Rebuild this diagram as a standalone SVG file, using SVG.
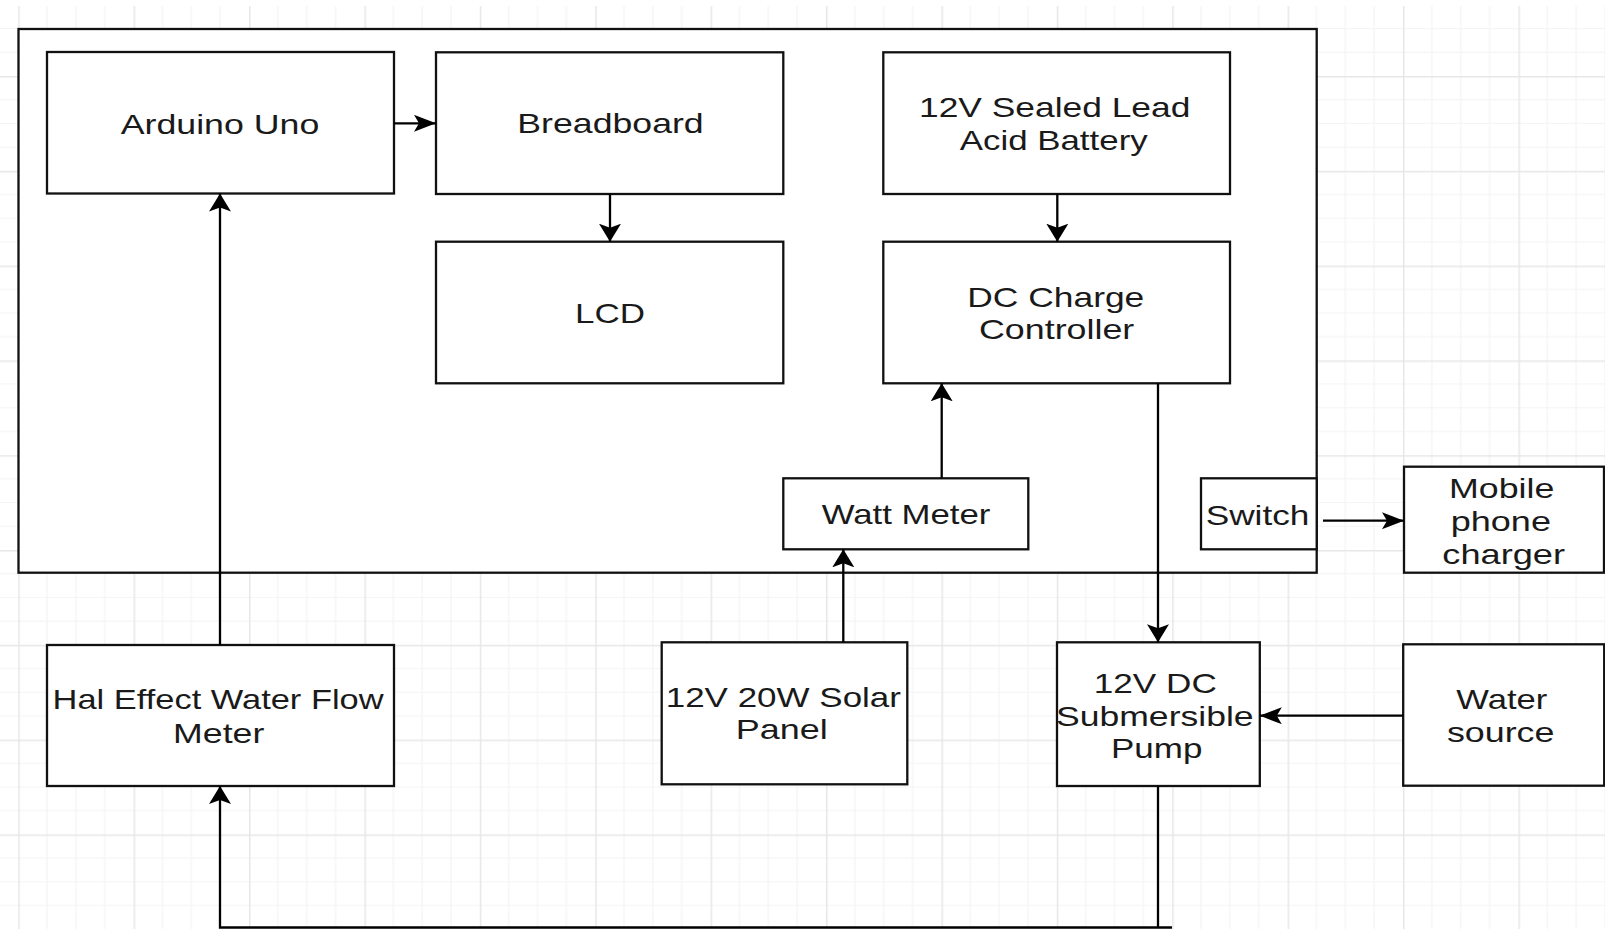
<svg xmlns="http://www.w3.org/2000/svg" width="1605" height="929" viewBox="0 0 1605 929">
<defs>
<pattern id="grid" patternUnits="userSpaceOnUse" x="18.2" y="76" width="115.4" height="94.8">
<path d="M28.85,0V94.8M57.7,0V94.8M86.55,0V94.8M0,23.7H115.4M0,47.4H115.4M0,71.1H115.4" stroke="#f4f4f4" stroke-width="1.2" fill="none"/>
<path d="M0.75,0V94.8M0,0.75H115.4" stroke="#e7e7e7" stroke-width="1.5" fill="none"/>
</pattern>
<marker id="arrV" viewBox="0 0 18 22" refX="18" refY="11" markerWidth="18" markerHeight="22" markerUnits="userSpaceOnUse" orient="auto">
<path d="M0,0 L18,11 L0,22 L4,11 Z" fill="#000"/>
</marker>
<marker id="arrH" viewBox="0 0 22 17" refX="22" refY="8.5" markerWidth="22" markerHeight="17" markerUnits="userSpaceOnUse" orient="auto">
<path d="M0,0 L22,8.5 L0,17 L5,8.5 Z" fill="#000"/>
</marker>
<style>
.box{fill:#fff;stroke:#111;stroke-width:2.3}
.lbl{font-family:"Liberation Sans",Arial,sans-serif;font-size:28px;fill:#1a1a1a}
.con{fill:none;stroke:#000;stroke-width:2.3}
</style>
</defs>
<rect x="0" y="0" width="1605" height="929" fill="#fff"/>
<rect x="0" y="6" width="1605" height="923" fill="url(#grid)"/>

<g id="container"><rect class="box" x="18.5" y="29" width="1298.2" height="543.7"/></g>

<g id="arduino"><rect class="box" x="47" y="52" width="347" height="141.5"/>
<text class="lbl" x="120.7" y="134.3" textLength="198.6" lengthAdjust="spacingAndGlyphs">Arduino Uno</text></g>

<g id="breadboard"><rect class="box" x="436" y="52.3" width="347.3" height="141.7"/>
<text class="lbl" x="517.3" y="133.3" textLength="186.4" lengthAdjust="spacingAndGlyphs">Breadboard</text></g>

<g id="lcd"><rect class="box" x="436" y="241.7" width="347.3" height="141.6"/>
<text class="lbl" x="575" y="323.3" textLength="70" lengthAdjust="spacingAndGlyphs">LCD</text></g>

<g id="battery"><rect class="box" x="883.3" y="52.3" width="346.7" height="141.7"/>
<text class="lbl" x="919" y="117.3" textLength="271.3" lengthAdjust="spacingAndGlyphs">12V Sealed Lead</text>
<text class="lbl" x="959.7" y="150" textLength="188" lengthAdjust="spacingAndGlyphs">Acid Battery</text></g>

<g id="dc-charge"><rect class="box" x="883.3" y="241.7" width="346.7" height="141.6"/>
<text class="lbl" x="967.3" y="306.7" textLength="177" lengthAdjust="spacingAndGlyphs">DC Charge</text>
<text class="lbl" x="979" y="339.3" textLength="155.3" lengthAdjust="spacingAndGlyphs">Controller</text></g>

<g id="watt-meter"><rect class="box" x="783.3" y="478.3" width="245" height="71"/>
<text class="lbl" x="821.7" y="524" textLength="168.7" lengthAdjust="spacingAndGlyphs">Watt Meter</text></g>

<g id="switch"><rect class="box" x="1201" y="478.3" width="115.7" height="71"/>
<text class="lbl" x="1205.7" y="525" textLength="103.7" lengthAdjust="spacingAndGlyphs">Switch</text></g>

<g id="mobile-charger"><rect class="box" x="1404" y="466.7" width="200" height="106"/>
<text class="lbl" x="1449" y="498.3" textLength="105.3" lengthAdjust="spacingAndGlyphs">Mobile</text>
<text class="lbl" x="1450.7" y="531" textLength="100.3" lengthAdjust="spacingAndGlyphs">phone</text>
<text class="lbl" x="1442.3" y="564" textLength="122.7" lengthAdjust="spacingAndGlyphs">charger</text></g>

<g id="flow-meter"><rect class="box" x="47" y="645" width="347" height="141"/>
<text class="lbl" x="52.6" y="709.3" textLength="331" lengthAdjust="spacingAndGlyphs">Hal Effect Water Flow</text>
<text class="lbl" x="173.1" y="742.7" textLength="91.2" lengthAdjust="spacingAndGlyphs">Meter</text></g>

<g id="solar-panel"><rect class="box" x="661.7" y="642.3" width="245.6" height="142"/>
<text class="lbl" x="665.7" y="707.3" textLength="235.3" lengthAdjust="spacingAndGlyphs">12V 20W Solar</text>
<text class="lbl" x="735.7" y="739.3" textLength="92" lengthAdjust="spacingAndGlyphs">Panel</text></g>

<g id="pump"><rect class="box" x="1057" y="642.3" width="202.8" height="143.7"/>
<text class="lbl" x="1093.8" y="692.7" textLength="123" lengthAdjust="spacingAndGlyphs">12V DC</text>
<text class="lbl" x="1056" y="726" textLength="197.6" lengthAdjust="spacingAndGlyphs">Submersible</text>
<text class="lbl" x="1111" y="758.3" textLength="91.4" lengthAdjust="spacingAndGlyphs">Pump</text></g>

<g id="water-source"><rect class="box" x="1403.2" y="644.3" width="201" height="141.4"/>
<text class="lbl" x="1456.3" y="709.3" textLength="91" lengthAdjust="spacingAndGlyphs">Water</text>
<text class="lbl" x="1446.9" y="741.7" textLength="107.6" lengthAdjust="spacingAndGlyphs">source</text></g>

<g id="connectors">
<path class="con" d="M394,123.3 H436" marker-end="url(#arrH)"/>
<path class="con" d="M220,645 V193.5" marker-end="url(#arrV)"/>
<path class="con" d="M610,194 V241.7" marker-end="url(#arrV)"/>
<path class="con" d="M1057.3,194 V241.7" marker-end="url(#arrV)"/>
<path class="con" d="M941.7,478.3 V383.3" marker-end="url(#arrV)"/>
<path class="con" d="M843.3,642.3 V549.3" marker-end="url(#arrV)"/>
<path class="con" d="M1158,383.3 V642.3" marker-end="url(#arrV)"/>
<path class="con" d="M1323,520.7 H1404" marker-end="url(#arrH)"/>
<path class="con" d="M1403,715.7 H1259.8" marker-end="url(#arrH)"/>
<path class="con" d="M1158,786 V927.5 M1172,927.5 H220 V786" marker-end="url(#arrV)"/>
</g>
</svg>
